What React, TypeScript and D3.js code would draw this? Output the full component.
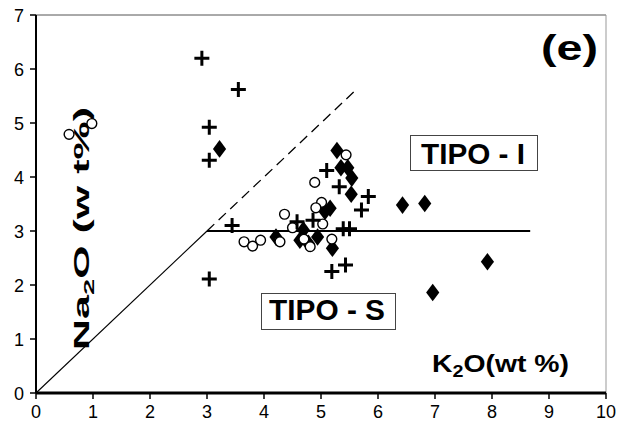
import React from "react";
import * as d3 from "d3";

const xTicks = [0, 1, 2, 3, 4, 5, 6, 7, 8, 9, 10];
const yTicks = [0, 1, 2, 3, 4, 5, 6, 7];

// Series: crosses
const crossK2O = [2.91, 3.55, 3.04, 3.04, 3.44, 3.04, 5.1, 5.32, 5.83, 5.71, 4.58, 4.86, 5.39, 5.5, 5.19, 5.43];
const crossNa2O = [6.2, 5.62, 4.92, 4.31, 3.1, 2.11, 4.12, 3.82, 3.64, 3.39, 3.17, 3.2, 3.04, 3.04, 2.25, 2.37];

// Series: open circles
const circleK2O = [0.58, 0.98, 3.65, 3.8, 3.94, 4.36, 4.5, 4.28, 5.44, 4.89, 5.01, 4.91, 5.03, 5.19, 4.81, 4.7];
const circleNa2O = [4.79, 4.99, 2.8, 2.72, 2.83, 3.31, 3.06, 2.8, 4.41, 3.9, 3.53, 3.43, 3.13, 2.85, 2.71, 2.85];

// Series: filled diamonds
const diamondK2O = [3.22, 5.28, 5.35, 5.47, 5.54, 5.53, 5.16, 5.07, 4.21, 4.69, 4.63, 4.78, 4.94, 5.2, 6.43, 6.82, 7.92, 6.96];
const diamondNa2O = [4.52, 4.49, 4.17, 4.17, 3.98, 3.68, 3.42, 3.36, 2.89, 3.02, 2.83, 2.77, 2.89, 2.68, 3.48, 3.51, 2.43, 1.86];

// Reference lines
const solidDiag: [number, number][] = [[0, 0], [3, 3]];
const dashedDiag: [number, number][] = [[3, 3], [5.6, 5.6]];
const limitLine: [number, number][] = [[3, 3], [8.67, 3]];

const FONT = "'Liberation Sans', Arial, sans-serif";

export default function App() {
  const x = d3.scaleLinear().domain([0, 10]).range([36, 606]);
  const y = d3.scaleLinear().domain([0, 7]).range([393, 15]);
  const line = d3
    .line<[number, number]>()
    .x((d) => x(d[0]))
    .y((d) => y(d[1]));

  return (
    <svg
      width={621}
      height={426}
      style={{ position: "absolute", left: 0, top: 0, background: "#fff" }}
      fontFamily={FONT}
    >
      <rect x={0} y={0} width={621} height={426} fill="#fff" />
      {/* frame */}
      <line x1={x(0)} x2={x(10)} y1={y(7)} y2={y(7)} stroke="#555" strokeWidth={1} />
      <line x1={x(10)} x2={x(10)} y1={y(7)} y2={y(0)} stroke="#999" strokeWidth={1} />

      {/* reference lines */}
      <path d={line(solidDiag) || ""} stroke="#000" strokeWidth={1.1} fill="none" />
      <path d={line(dashedDiag) || ""} stroke="#000" strokeWidth={1.3} strokeDasharray="10,6" fill="none" />
      <path d={line(limitLine) || ""} stroke="#000" strokeWidth={2} fill="none" />

      {/* axes */}
      <line x1={x(0)} x2={x(0)} y1={y(7)} y2={y(0)} stroke="#000" strokeWidth={2} />
      <line x1={x(0)} x2={x(10)} y1={y(0)} y2={y(0)} stroke="#000" strokeWidth={3} />
      {yTicks.map((t) => (
        <g key={"y" + t}>
          <line x1={x(0) - 6} x2={x(0)} y1={y(t)} y2={y(t)} stroke="#000" strokeWidth={1.5} />
          <text x={24} y={y(t) + 6.5} textAnchor="end" fontSize={18}>
            {t}
          </text>
        </g>
      ))}
      {xTicks.map((t) => (
        <g key={"x" + t}>
          <line x1={x(t)} x2={x(t)} y1={y(0)} y2={y(0) + 6} stroke="#000" strokeWidth={1.5} />
          <text x={x(t)} y={418} textAnchor="middle" fontSize={18}>
            {t}
          </text>
        </g>
      ))}

      {/* axis title (drawn under the marks) */}
      <text
        transform="translate(89,350) rotate(-90)"
        x={0}
        y={0}
        fontSize={22}
        fontWeight="bold"
        textLength={243}
        lengthAdjust="spacingAndGlyphs"
      >
        Na<tspan fontSize={15} dy={5}>2</tspan>
        <tspan dy={-5}>O  (w t%)</tspan>
      </text>

      {/* diamonds */}
      {diamondK2O.map((k, i) => {
        const cx = x(k);
        const cy = y(diamondNa2O[i]);
        return (
          <path
            key={"d" + i}
            d={`M${cx},${cy - 8.8}L${cx + 6.6},${cy}L${cx},${cy + 8.8}L${cx - 6.6},${cy}Z`}
            fill="#000"
          />
        );
      })}
      {/* circles */}
      {circleK2O.map((k, i) => (
        <circle key={"c" + i} cx={x(k)} cy={y(circleNa2O[i])} r={4.9} fill="#fff" stroke="#000" strokeWidth={1.4} />
      ))}
      {/* crosses */}
      {crossK2O.map((k, i) => {
        const cx = x(k);
        const cy = y(crossNa2O[i]);
        return (
          <path
            key={"p" + i}
            d={`M${cx - 7.5},${cy}H${cx + 7.5}M${cx},${cy - 7.5}V${cy + 7.5}`}
            stroke="#000"
            strokeWidth={3}
            fill="none"
          />
        );
      })}

      {/* labels */}
      <text x={541} y={60} fontSize={35} fontWeight="bold" textLength={57} lengthAdjust="spacingAndGlyphs">
        (e)
      </text>

      <rect x={410.5} y={135.5} width={127} height={35} fill="#fff" stroke="#444" strokeWidth={1} />
      <text x={421} y={164} fontSize={30} fontWeight="bold" textLength={104} lengthAdjust="spacingAndGlyphs">
        TIPO - I
      </text>

      <rect x={261.5} y={293.5} width={134} height={36} fill="#fff" stroke="#444" strokeWidth={1} />
      <text x={269} y={320} fontSize={30} fontWeight="bold" textLength={116} lengthAdjust="spacingAndGlyphs">
        TIPO - S
      </text>

      <text x={432} y={372} fontSize={23} fontWeight="bold" textLength={137} lengthAdjust="spacingAndGlyphs">
        K<tspan fontSize={16} dy={5}>2</tspan>
        <tspan dy={-5}>O(wt %)</tspan>
      </text>
    </svg>
  );
}
